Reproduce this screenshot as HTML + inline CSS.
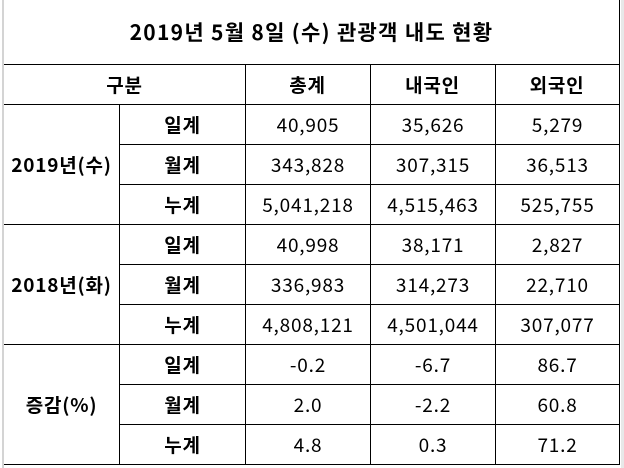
<!DOCTYPE html><html><head><meta charset="utf-8"><style>
body{margin:0;width:624px;height:468px;background:#fff;position:relative;overflow:hidden;font-family:"Noto Sans CJK KR","Liberation Sans",sans-serif;color:#000}
.h{position:absolute;height:1px;background:#000}
.v{position:absolute;width:1px;background:#000}
.g{position:absolute;background:#d4d4d4}
.c{position:absolute;display:flex;align-items:center;justify-content:center;font-size:19px;letter-spacing:0.8px;line-height:1}
.b{font-weight:bold}
</style></head><body>
<div class="g" style="left:2px;top:0;width:2px;height:468px"></div>
<div class="g" style="left:621px;top:0;width:3px;height:468px;background:#e8e8e8"></div>
<div class="v" style="left:619px;top:0;height:465px"></div>
<div class="c b" style="left:4px;top:12px;width:615px;height:40px;font-size:21px;letter-spacing:1.3px">2019년 5월 8일 (수) 관광객 내도 현황</div>
<div class="h" style="left:4px;top:64px;width:616px"></div>
<div class="h" style="left:4px;top:104px;width:616px"></div>
<div class="h" style="left:119px;top:144px;width:501px"></div>
<div class="h" style="left:119px;top:184px;width:501px"></div>
<div class="h" style="left:4px;top:224px;width:616px"></div>
<div class="h" style="left:119px;top:264px;width:501px"></div>
<div class="h" style="left:119px;top:304px;width:501px"></div>
<div class="h" style="left:4px;top:344px;width:616px"></div>
<div class="h" style="left:119px;top:384px;width:501px"></div>
<div class="h" style="left:119px;top:424px;width:501px"></div>
<div class="h" style="left:4px;top:464px;width:616px"></div>
<div class="v" style="left:119px;top:104px;height:361px"></div>
<div class="v" style="left:245px;top:64px;height:401px"></div>
<div class="v" style="left:370px;top:64px;height:401px"></div>
<div class="v" style="left:495px;top:64px;height:401px"></div>

<div class="c b" style="left:4px;top:64px;width:241px;height:40px">구분</div>
<div class="c b" style="left:245px;top:64px;width:125px;height:40px">총계</div>
<div class="c b" style="left:370px;top:64px;width:125px;height:40px">내국인</div>
<div class="c b" style="left:495px;top:64px;width:124px;height:40px">외국인</div>

<div class="c b" style="left:4px;top:104px;width:115px;height:120px">2019년(수)</div>
<div class="c b" style="left:4px;top:224px;width:115px;height:120px">2018년(화)</div>
<div class="c b" style="left:4px;top:344px;width:115px;height:120px">증감(%)</div>

<div class="c b" style="left:120px;top:104px;width:125px;height:40px">일계</div>
<div class="c b" style="left:120px;top:144px;width:125px;height:40px">월계</div>
<div class="c b" style="left:120px;top:184px;width:125px;height:40px">누계</div>
<div class="c b" style="left:120px;top:224px;width:125px;height:40px">일계</div>
<div class="c b" style="left:120px;top:264px;width:125px;height:40px">월계</div>
<div class="c b" style="left:120px;top:304px;width:125px;height:40px">누계</div>
<div class="c b" style="left:120px;top:344px;width:125px;height:40px">일계</div>
<div class="c b" style="left:120px;top:384px;width:125px;height:40px">월계</div>
<div class="c b" style="left:120px;top:424px;width:125px;height:40px">누계</div>

<div class="c" style="left:246px;top:104px;width:124px;height:40px">40,905</div>
<div class="c" style="left:371px;top:104px;width:124px;height:40px">35,626</div>
<div class="c" style="left:496px;top:104px;width:123px;height:40px">5,279</div>
<div class="c" style="left:246px;top:144px;width:124px;height:40px">343,828</div>
<div class="c" style="left:371px;top:144px;width:124px;height:40px">307,315</div>
<div class="c" style="left:496px;top:144px;width:123px;height:40px">36,513</div>
<div class="c" style="left:246px;top:184px;width:124px;height:40px">5,041,218</div>
<div class="c" style="left:371px;top:184px;width:124px;height:40px">4,515,463</div>
<div class="c" style="left:496px;top:184px;width:123px;height:40px">525,755</div>
<div class="c" style="left:246px;top:224px;width:124px;height:40px">40,998</div>
<div class="c" style="left:371px;top:224px;width:124px;height:40px">38,171</div>
<div class="c" style="left:496px;top:224px;width:123px;height:40px">2,827</div>
<div class="c" style="left:246px;top:264px;width:124px;height:40px">336,983</div>
<div class="c" style="left:371px;top:264px;width:124px;height:40px">314,273</div>
<div class="c" style="left:496px;top:264px;width:123px;height:40px">22,710</div>
<div class="c" style="left:246px;top:304px;width:124px;height:40px">4,808,121</div>
<div class="c" style="left:371px;top:304px;width:124px;height:40px">4,501,044</div>
<div class="c" style="left:496px;top:304px;width:123px;height:40px">307,077</div>
<div class="c" style="left:246px;top:344px;width:124px;height:40px">-0.2</div>
<div class="c" style="left:371px;top:344px;width:124px;height:40px">-6.7</div>
<div class="c" style="left:496px;top:344px;width:123px;height:40px">86.7</div>
<div class="c" style="left:246px;top:384px;width:124px;height:40px">2.0</div>
<div class="c" style="left:371px;top:384px;width:124px;height:40px">-2.2</div>
<div class="c" style="left:496px;top:384px;width:123px;height:40px">60.8</div>
<div class="c" style="left:246px;top:424px;width:124px;height:40px">4.8</div>
<div class="c" style="left:371px;top:424px;width:124px;height:40px">0.3</div>
<div class="c" style="left:496px;top:424px;width:123px;height:40px">71.2</div>
</body></html>
